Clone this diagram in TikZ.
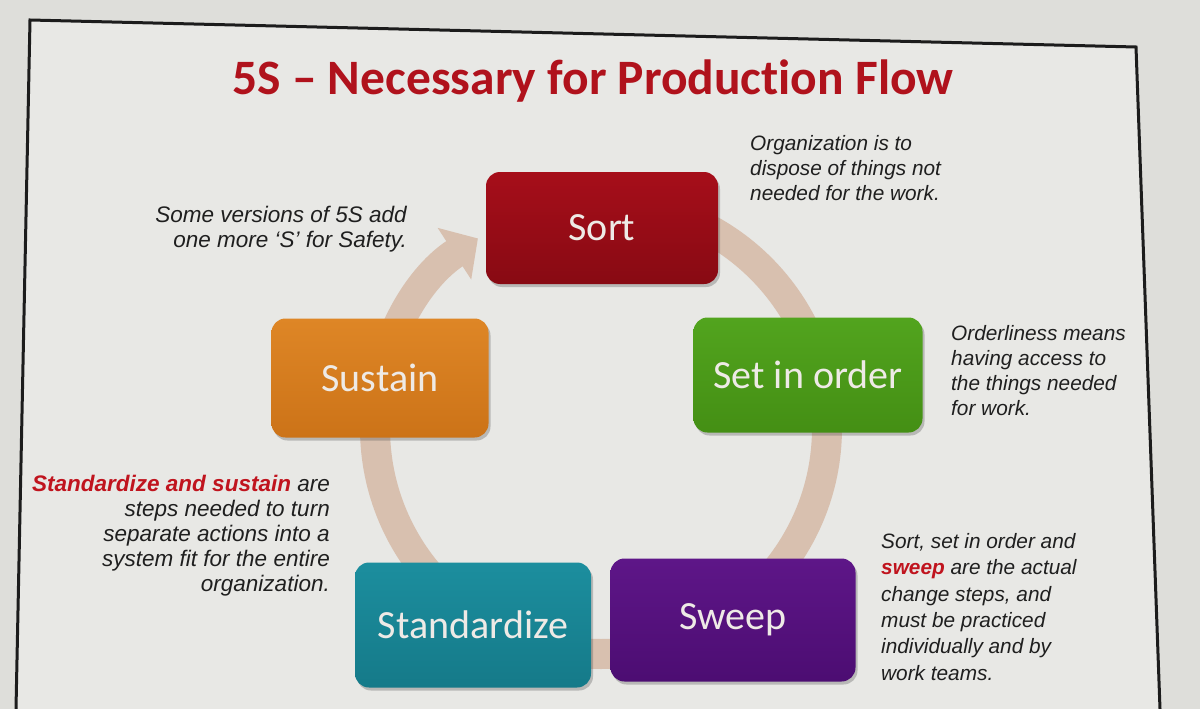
\documentclass[tikz,border=0pt]{standalone}
\usepackage{fontspec}
\setmainfont{Carlito}[Ligatures=NoCommon]
\newfontfamily\arialfont{Liberation Sans}
\usetikzlibrary{arrows.meta,shadows}
\definecolor{paper}{HTML}{DEDEDA}
\definecolor{inside}{HTML}{E8E8E5}
\definecolor{framecol}{HTML}{1C1C1C}
\definecolor{titlered}{HTML}{B0121C}
\definecolor{accent}{HTML}{C0141E}
\definecolor{ringcol}{HTML}{D8C0AF}
\definecolor{boxtext}{HTML}{EEEAE6}
\definecolor{sortT}{HTML}{A60E1A}\definecolor{sortB}{HTML}{880A13}
\definecolor{setT}{HTML}{52A41E}\definecolor{setB}{HTML}{448F14}
\definecolor{susT}{HTML}{DE8626}\definecolor{susB}{HTML}{CC7318}
\definecolor{stdT}{HTML}{1C8E9E}\definecolor{stdB}{HTML}{157A89}
\definecolor{swpT}{HTML}{5E1688}\definecolor{swpB}{HTML}{4C0D72}
\tikzset{
  stepbox/.style={rounded corners=14pt, text=boxtext, inner sep=0pt,
    font=\fontsize{40}{48}\selectfont,
    drop shadow={shadow xshift=2pt,shadow yshift=-3pt,opacity=0.3,fill=black!70}},
  noteL/.style={inner sep=0pt, text=black!88, font=\arialfont\itshape\fontsize{22.5}{25}\selectfont},
  noteR/.style={inner sep=0pt, text=black!88, font=\arialfont\itshape\fontsize{20.8}{25}\selectfont},
  ringline/.style={draw=ringcol, line width=30pt, -{Triangle[width=60pt,length=28pt]}},
  titlestyle/.style={inner sep=0pt, text=titlered, font=\bfseries\fontsize{49.5}{58}\selectfont}
}
\begin{document}
\begin{tikzpicture}[x=1pt,y=-1pt]
\useasboundingbox (0,0) rectangle (1200,709);
\fill[paper] (0,0) rectangle (1200,709);
\fill[inside] (30,20) -- (1136,47) -- (1160,709) -- (16,709) -- cycle;
\draw[framecol, line width=3pt] (16,709) -- (30,20) -- (1136,47) -- (1160,709);

\node[titlestyle] (title) at (593,81) {5S – Necessary for Production Flow};

% circular arrow
\coordinate (ringc) at (601,428);
\draw[ringline] ([shift={(-90:226)}]ringc) arc[start angle=-90,end angle=237,radius=226];

% boxes
\node[stepbox, top color=sortT, bottom color=sortB, minimum width=232pt, minimum height=112pt] (sort) at (602,228) {Sort};
\node[stepbox, top color=setT, bottom color=setB, minimum width=229pt, minimum height=115pt] (set) at (808,375) {Set in order};
\node[stepbox, top color=susT, bottom color=susB, minimum width=217pt, minimum height=119pt] (sustain) at (380,378) {Sustain};
\node[stepbox, top color=stdT, bottom color=stdB, minimum width=236pt, minimum height=125pt] (standardize) at (473,625) {Standardize};
\node[stepbox, top color=swpT, bottom color=swpB, minimum width=245pt, minimum height=123pt] (sweep) at (733,620) {Sweep};

% notes
\node[noteL, anchor=north east, align=right] (n1) at (407,206) {Some versions of 5S add\\one more ‘S’ for Safety.};
\node[noteR, anchor=north west, align=left] (n2) at (750,135) {Organization is to\\dispose of things not\\needed for the work.};
\node[noteR, anchor=north west, align=left] (n3) at (951,325) {Orderliness means\\having access to\\the things needed\\for work.};
\node[noteL, anchor=north east, align=right] (n4) at (330,475) {\textcolor{accent}{\bfseries Standardize and sustain} are\\steps needed to turn\\separate actions into a\\system fit for the entire\\organization.};
\node[noteR, anchor=north west, align=left, font=\arialfont\itshape\fontsize{20.8}{26.4}\selectfont] (n5) at (881,533) {Sort, set in order and\\\textcolor{accent}{\bfseries sweep} are the actual\\change steps, and\\must be practiced\\individually and by\\work teams.};
\end{tikzpicture}
\end{document}
